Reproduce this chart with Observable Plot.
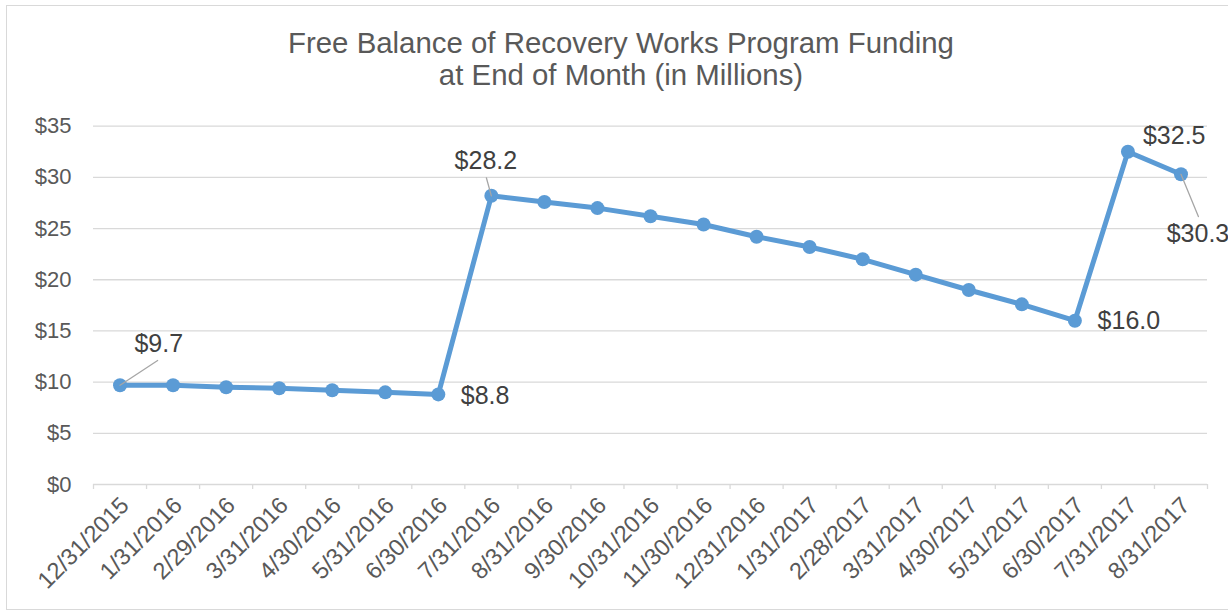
<!DOCTYPE html>
<html>
<head>
<meta charset="utf-8">
<script src="https://cdn.jsdelivr.net/npm/d3@7"></script>
<script src="https://cdn.jsdelivr.net/npm/@observablehq/plot@0.6"></script>
<style>
  html, body { margin: 0; padding: 0; background: #fff; }
  #wrap { position: relative; width: 1228px; height: 613px; overflow: hidden; font-family: "Liberation Sans", Arial, sans-serif; }
  #frame { position: absolute; left: 6px; top: 5px; width: 1240px; height: 605px; border: 1.3px solid #d9d9d9; box-sizing: border-box; }
  #title { position: absolute; left: 0; top: 27px; width: 1242px; text-align: center; font-size: 29.4px; line-height: 32px; color: #595959; }
  #chart { position: absolute; left: 0; top: 0; }
</style>
</head>
<body>
<div id="wrap">
  <div id="frame"></div>
  <div id="chart"></div>
  <div id="title">Free Balance of Recovery Works Program Funding<br>at End of Month (in Millions)</div>
</div>
<script>
const dates = ["12/31/2015","1/31/2016","2/29/2016","3/31/2016","4/30/2016","5/31/2016","6/30/2016","7/31/2016","8/31/2016","9/30/2016","10/31/2016","11/30/2016","12/31/2016","1/31/2017","2/28/2017","3/31/2017","4/30/2017","5/31/2017","6/30/2017","7/31/2017","8/31/2017"];
const balance = [9.7, 9.7, 9.5, 9.4, 9.2, 9.0, 8.8, 28.2, 27.6, 27.0, 26.2, 25.4, 24.2, 23.2, 22.0, 20.5, 19.0, 17.6, 16.0, 32.5, 30.3];
const yTicks = [0, 5, 10, 15, 20, 25, 30, 35];

const idx = dates.map((d, i) => i);
const boundaries = d3.range(dates.length + 1).map(i => i - 0.5);
const fmt = v => "$" + v.toFixed(1);

function label(i, anchor, dx, dy) {
  return Plot.text([i], {x: d => d, y: d => balance[d], text: d => fmt(balance[d]),
    textAnchor: anchor, dx, dy, fontSize: 25, fill: "#404040"});
}
const lineShape = {draw(context, l) { context.moveTo(0, 0); context.lineTo(0, -l); }};
function leader(i, length, rotate) {
  return Plot.vector([i], {x: d => d, y: d => balance[d], length, rotate, anchor: "start",
    shape: lineShape, stroke: "#a6a6a6", strokeWidth: 1.3});
}

const chart = Plot.plot({
  width: 1228,
  height: 613,
  marginTop: 125.7,
  marginBottom: 129,
  marginLeft: 93,
  marginRight: 21,
  style: {fontFamily: '"Liberation Sans", Arial, sans-serif', color: "#595959", background: "transparent", overflow: "visible"},
  x: {type: "linear", domain: [-0.5, dates.length - 0.5], label: null},
  y: {domain: [0, 35], label: null},
  marks: [
    Plot.ruleY(yTicks.filter(d => d > 0), {stroke: "#d9d9d9", strokeWidth: 1.3}),
    Plot.ruleY([0], {stroke: "#d9d9d9", strokeWidth: 1.3}),
    Plot.axisX(boundaries, {tickSize: 5, tickFormat: () => "", stroke: "#d9d9d9", strokeWidth: 1.3}),
    Plot.axisX(idx, {tickSize: 0, tickPadding: 17, tickRotate: -45, tickFormat: i => dates[i], fontSize: 23.5, dx: 5}),
    Plot.axisY(yTicks, {tickSize: 0, tickPadding: 22, tickFormat: d => "$" + d, fontSize: 22}),
    Plot.line(balance, {x: (d, i) => i, y: d => d, stroke: "#5b9bd5", strokeWidth: 5, strokeLinejoin: "round"}),
    Plot.dot(balance, {x: (d, i) => i, y: d => d, r: 7, fill: "#5b9bd5"}),
    leader(0, 45, 56.7),
    leader(7, 18.7, -15.5),
    leader(20, 45.7, 157.6),
    label(0, "start", 14.4, -41),
    label(6, "start", 22.5, 2),
    label(7, "middle", -5.5, -35),
    label(18, "start", 22.7, 0),
    label(19, "start", 15, -16),
    label(20, "middle", 17, 59.5)
  ]
});
document.getElementById("chart").appendChild(chart);
</script>
</body>
</html>
